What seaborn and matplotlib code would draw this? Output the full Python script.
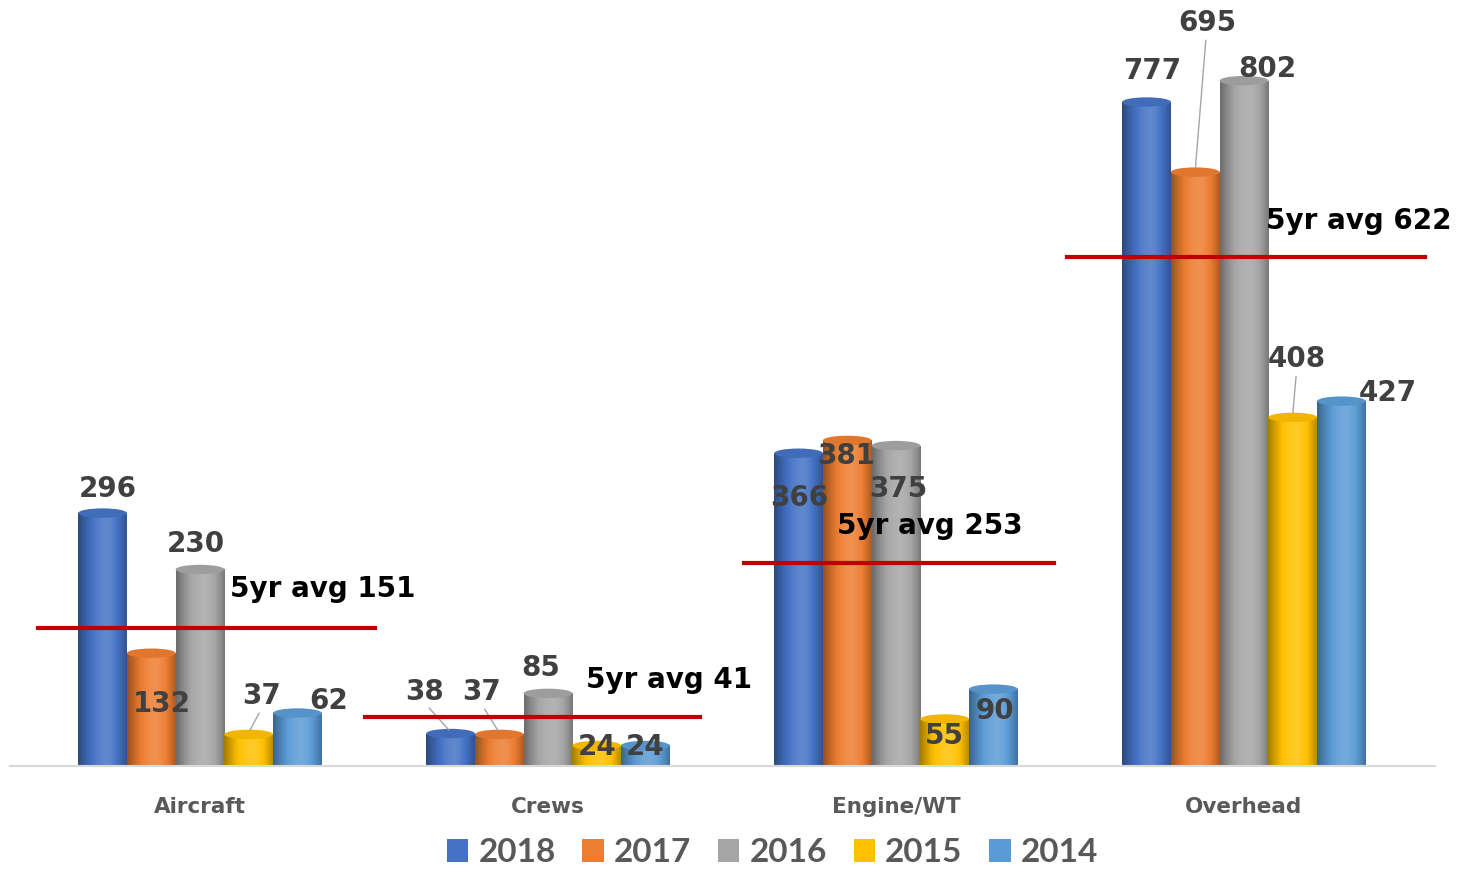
import matplotlib
matplotlib.use('Agg')
import matplotlib.pyplot as plt
import matplotlib.colors as mcolors
from matplotlib.patches import Ellipse, Patch
import numpy as np
import pandas as pd
import seaborn as sns

# data
categories = ['Aircraft', 'Crews', 'Engine/WT', 'Overhead']
years = ['2018', '2017', '2016', '2015', '2014']
v2018 = [296, 38, 366, 777]
v2017 = [132, 37, 381, 695]
v2016 = [230, 85, 375, 802]
v2015 = [37, 24, 55, 408]
v2014 = [62, 24, 90, 427]
avg_labels = [151, 41, 253, 622]
avg_line_level = [161, 57, 237, 596]   # where the red lines sit in the picture
colors = ['#4472C4', '#ED7D31', '#A5A5A5', '#FFC000', '#5B9BD5']

df = pd.DataFrame({
    'category': categories * 5,
    'year': [y for y in years for _ in categories],
    'value': v2018 + v2017 + v2016 + v2015 + v2014,
})

# label offsets in pixels (dx, dy) per year, per category
label_off = {
    '2018': [(5, 24), (-26, 42), (1, -45), (6, 31)],
    '2017': [(11, -51), (-18, 42), (-1, -16), (12, 149)],
    '2016': [(-4, 25), (-7, 25), (2, -43), (23, 12)],
    '2015': [(13, 38), (0, -2), (0, -17), (4, 58)],
    '2014': [(31, 12), (0, -2), (2, -22), (46, 8)],
}
leaders = {('2015', 0), ('2018', 1), ('2017', 1), ('2017', 3), ('2015', 3)}
avg_text_off = [(0.086, 39), (0.109, 37), (-0.17, 37), (0.063, 36)]
avg_line_span = [(-0.466, 0.503), (-0.526, 0.437), (-0.437, 0.454), (-0.509, 0.52)]

plt.rcParams['font.family'] = ['DejaVu Sans']

fig = plt.figure(figsize=(14.63, 8.72), dpi=100)
ax = fig.add_axes([10 / 1463, 106 / 872, 1425 / 1463, 752 / 872])

sns.barplot(data=df, x='category', y='value', hue='year', hue_order=years,
            order=categories, palette=colors, width=0.7, saturation=1,
            legend=False, ax=ax)

ylim = (0, 880)
xlim = (-0.546, 3.549)
cap_h = 11


def shade(c, f):
    c = np.array(mcolors.to_rgb(c))
    if f >= 0:
        return c + (1 - c) * f
    return c * (1 + f)


t = np.linspace(0, 1, 60)
prof = np.where(t < 0.6, -0.35 + 0.5 * np.sin(t / 0.6 * np.pi / 2),
                0.15 - 0.42 * ((t - 0.6) / 0.4) ** 1.5)

for ci, cont in enumerate(ax.containers):
    base = colors[ci]
    grad = np.array([[shade(base, f) for f in prof]])
    for p in cont.patches:
        x0, w, h = p.get_x(), p.get_width(), p.get_height()
        p.set_alpha(0)
        im = ax.imshow(grad, extent=[x0, x0 + w, 0, h], aspect='auto',
                       zorder=2, interpolation='bilinear')
        im.set_clip_path(p)
        # rounded bottom and top cap
        ax.add_patch(Ellipse((x0 + w / 2, 0), w, cap_h,
                             color=shade(base, -0.2), zorder=1.9, lw=0))
        ax.add_patch(Ellipse((x0 + w / 2, h), w, cap_h,
                             color=shade(base, -0.05), zorder=2.1, lw=0))

ax.set_xlim(*xlim)
ax.set_ylim(*ylim)

# data labels
for ci, cont in enumerate(ax.containers):
    yr = years[ci]
    for k, p in enumerate(cont.patches):
        cx = p.get_x() + p.get_width() / 2
        h = p.get_height()
        dx, dy = label_off[yr][k]
        ax.annotate(str(int(h)), (cx, h), xytext=(dx, dy),
                    textcoords='offset pixels', ha='center', va='center',
                    fontsize=20, fontweight='bold', color='#404040', zorder=5)
        if (yr, k) in leaders:
            ax.annotate('', (cx, h + 2), xytext=(dx * 0.9, dy - 16),
                        textcoords='offset pixels',
                        arrowprops=dict(arrowstyle='-', color='#a6a6a6', lw=1),
                        zorder=4)

# 5yr average lines
for k, (lvl, lab) in enumerate(zip(avg_line_level, avg_labels)):
    a, b = avg_line_span[k]
    ax.plot([k + a, k + b], [lvl, lvl], color='#C00000', lw=3, zorder=4)
    ox, oy = avg_text_off[k]
    ax.annotate(f'5yr avg {lab}', (k + ox, lvl), xytext=(0, oy),
                textcoords='offset pixels', ha='left', va='center',
                fontsize=20, fontweight='bold', color='black', zorder=6)

for s in ['top', 'right', 'left']:
    ax.spines[s].set_visible(False)
ax.spines['bottom'].set_color('#d9d9d9')
ax.spines['bottom'].set_linewidth(1.5)
ax.set_yticks([])
ax.set_xlabel('')
ax.set_ylabel('')
ax.tick_params(axis='x', length=0, pad=22, labelsize=15.5, labelcolor='#595959')
for tl in ax.get_xticklabels():
    tl.set_fontweight('bold')

handles = [Patch(facecolor=c, label=y) for c, y in zip(colors, years)]
leg = fig.legend(handles=handles, loc='center', bbox_to_anchor=(0.528, 0.022),
                 ncol=5, frameon=False, prop={'family': 'Lato', 'size': 24},
                 handlelength=0.65, handleheight=0.65, handletextpad=0.3,
                 columnspacing=0.8)
for tx in leg.get_texts():
    tx.set_color('#595959')
    tx.set_fontweight('bold')

fig.savefig('out.png', dpi=100)
